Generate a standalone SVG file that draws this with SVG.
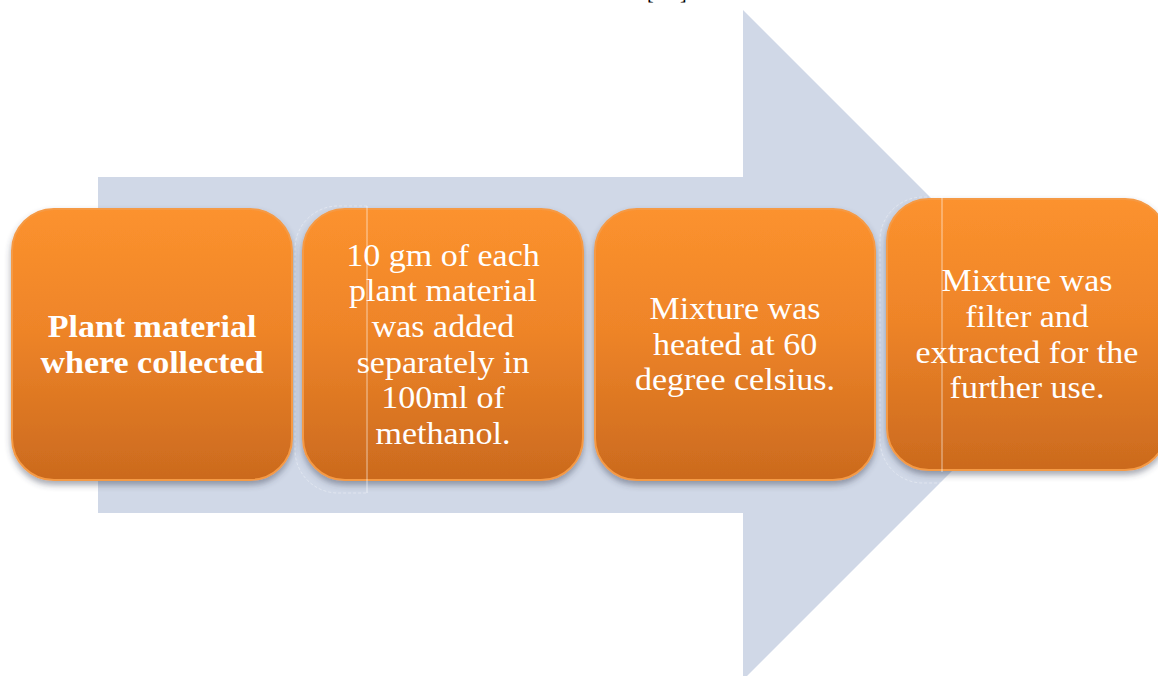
<svg xmlns="http://www.w3.org/2000/svg" width="1158" height="676" viewBox="0 0 1158 676">
<style>
.box{fill:url(#og);stroke:#F59A45;stroke-width:2;filter:url(#sh)}
.t{font-family:"Liberation Serif","Times New Roman",serif;font-size:31.5px;fill:#FFFFFF;text-anchor:middle}
.b{font-weight:bold}
.ghost{fill:none;stroke:#FFFFFF;stroke-width:1;stroke-opacity:0.35;stroke-dasharray:3 2}
.vl{stroke:#FFFFFF;stroke-width:1;stroke-opacity:0.6}
.br{font-family:"Liberation Serif","Times New Roman",serif;font-size:20px;fill:#000000}
</style>
<defs>
<linearGradient id="og" x1="0" y1="0" x2="0" y2="1">
<stop offset="0" stop-color="#FC922E"/>
<stop offset="0.45" stop-color="#EE8428"/>
<stop offset="1" stop-color="#CB6A1E"/>
</linearGradient>
<filter id="sh" x="-10%" y="-10%" width="120%" height="125%">
<feDropShadow dx="0" dy="4" stdDeviation="3" flood-color="#3A3F55" flood-opacity="0.45"/>
</filter>
</defs>
<rect width="1158" height="676" fill="#FFFFFF"/>
<text class="br" x="647" y="-1">[</text>
<text class="br" x="680" y="-1">]</text>
<g id="arrow">
<polygon points="98,177 743,177 743,10 1078,345 743,680 743,513 98,513" fill="#D0D8E7"/>
</g>
<g id="connectors"></g>
<g id="node1">
<rect class="box" x="12" y="209" width="280" height="271" rx="42" ry="42"/>
<g transform="translate(152,0) scale(1.08,1)">
<text class="t b" x="0" y="337">Plant material</text>
<text class="t b" x="0" y="373">where collected</text>
</g>
</g>
<g id="node2">
<rect class="box" x="303" y="209" width="280" height="271" rx="42" ry="42"/>
<g transform="translate(443,0) scale(1.08,1)">
<text class="t" x="0" y="266">10 gm of each</text>
<text class="t" x="0" y="301">plant material</text>
<text class="t" x="0" y="337">was added</text>
<text class="t" x="0" y="373">separately in</text>
<text class="t" x="0" y="408">100ml of</text>
<text class="t" x="0" y="444">methanol.</text>
</g>
<path class="ghost" d="M367,206 H338 A43,43 0 0 0 295,249 V450 A43,43 0 0 0 338,493 H367"/>
<line class="vl" x1="367" y1="206" x2="367" y2="493"/>
</g>
<g id="node3">
<rect class="box" x="595" y="209" width="280" height="271" rx="42" ry="42"/>
<g transform="translate(735,0) scale(1.08,1)">
<text class="t" x="0" y="319">Mixture was</text>
<text class="t" x="0" y="355">heated at 60</text>
<text class="t" x="0" y="390">degree celsius.</text>
</g>
</g>
<g id="node4">
<rect class="box" x="887" y="199" width="280" height="271" rx="42" ry="42"/>
<g transform="translate(1027,0) scale(1.08,1)">
<text class="t" x="0" y="291">Mixture was</text>
<text class="t" x="0" y="327">filter and</text>
<text class="t" x="0" y="363">extracted for the</text>
<text class="t" x="0" y="398">further use.</text>
</g>
<path class="ghost" d="M942,197 H923 A43,43 0 0 0 880,240 V440 A43,43 0 0 0 923,483 H942"/>
<line class="vl" x1="942" y1="197" x2="942" y2="472"/>
</g>
</svg>
